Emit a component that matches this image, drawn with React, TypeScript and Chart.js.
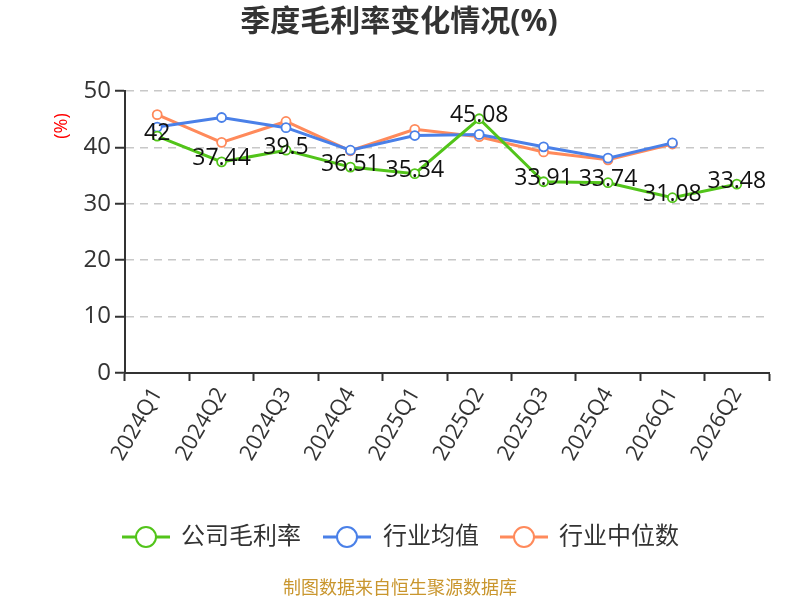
import React, { useEffect, useRef } from "react";
import { Chart, registerables } from "chart.js";

Chart.register(...registerables);

const categories = ["2024Q1", "2024Q2", "2024Q3", "2024Q4", "2025Q1", "2025Q2", "2025Q3", "2025Q4", "2026Q1", "2026Q2"];
const companyMargin = [42, 37.44, 39.5, 36.51, 35.34, 45.08, 33.91, 33.74, 31.08, 33.48];
const industryAvg = [43.6, 45.3, 43.5, 39.5, 42.1, 42.3, 40.1, 38.1, 40.8, null];
const industryMedian = [45.8, 40.9, 44.6, 39.4, 43.2, 41.9, 39.2, 37.8, 40.6, null];
const yTicks = [0, 10, 20, 30, 40, 50];

const seriesNames = ["公司毛利率", "行业均值", "行业中位数"];
const seriesColors = ["#52c41a", "#4a80e8", "#ff8a5b"];

const FONT = "'Open Sans', 'Noto Sans CJK SC', sans-serif";

const decorPlugin = {
  id: "decor",
  afterDatasetsDraw(chart: any) {
    const ctx = chart.ctx;
    const meta = chart.getDatasetMeta(0);
    ctx.save();
    ctx.font = `23px ${FONT}`;
    ctx.fillStyle = "#111";
    ctx.textAlign = "center";
    ctx.textBaseline = "middle";
    meta.data.forEach((pt: any, i: number) => {
      const v = companyMargin[i];
      if (v == null) return;
      ctx.fillText(String(v), pt.x, pt.y - 3);
    });
    ctx.restore();
  },
  afterDraw(chart: any) {
    const ctx = chart.ctx;
    ctx.save();
    ctx.font = `bold 30px ${FONT}`;
    ctx.fillStyle = "#333";
    ctx.textAlign = "center";
    ctx.textBaseline = "middle";
    ctx.fillText("季度毛利率变化情况(%)", 399, 22);
    ctx.save();
    ctx.translate(62, 126);
    ctx.rotate(-Math.PI / 2);
    ctx.font = `18px ${FONT}`;
    ctx.fillStyle = "#ff0000";
    ctx.fillText("(%)", 0, 0);
    ctx.restore();
    const items = [
      { cx: 146, tx: 181 },
      { cx: 347, tx: 383 },
      { cx: 524, tx: 559 },
    ];
    const ly = 537;
    items.forEach((it, i) => {
      ctx.strokeStyle = seriesColors[i];
      ctx.lineWidth = 3;
      ctx.beginPath();
      ctx.moveTo(it.cx - 24, ly);
      ctx.lineTo(it.cx + 24, ly);
      ctx.stroke();
      ctx.beginPath();
      ctx.arc(it.cx, ly, 10, 0, Math.PI * 2);
      ctx.fillStyle = "#fff";
      ctx.fill();
      ctx.lineWidth = 2;
      ctx.stroke();
      ctx.font = `24px ${FONT}`;
      ctx.fillStyle = "#333";
      ctx.textAlign = "left";
      ctx.textBaseline = "middle";
      ctx.fillText(seriesNames[i], it.tx, ly);
    });
    ctx.font = `18px ${FONT}`;
    ctx.fillStyle = "#c9962e";
    ctx.textAlign = "center";
    ctx.fillText("制图数据来自恒生聚源数据库", 400, 589);
    ctx.restore();
  },
};

export default function App() {
  const ref = useRef<HTMLCanvasElement | null>(null);
  useEffect(() => {
    document.body.style.margin = "0";
    if (!ref.current) return;
    const mk = (data: any[], color: string) => ({
      data,
      borderColor: color,
      backgroundColor: "#fff",
      borderWidth: 3,
      pointRadius: 4.5,
      pointBorderWidth: 1.8,
      pointBackgroundColor: "#fff",
      pointBorderColor: color,
      tension: 0,
      spanGaps: false,
    });
    const chart = new Chart(ref.current, {
      type: "line",
      data: {
        labels: categories,
        datasets: [
          mk(companyMargin, seriesColors[0]),
          mk(industryAvg, seriesColors[1]),
          mk(industryMedian, seriesColors[2]),
        ],
      },
      options: {
        animation: false,
        responsive: false,
        layout: { padding: { top: 91, right: 31, left: 0, bottom: 0 } },
        plugins: { legend: { display: false }, title: { display: false }, tooltip: { enabled: false } },
        scales: {
          x: {
            offset: true,
            grid: { display: true, offset: true, drawOnChartArea: false, drawTicks: true, tickLength: 8, tickColor: "#333", tickWidth: 2 },
            border: { color: "#333", width: 2 },
            ticks: { font: { size: 22, family: FONT }, color: "#333", maxRotation: 60, minRotation: 60, padding: 2 },
            afterFit: (s: any) => { s.height = 600 - 373; },
          },
          y: {
            min: 0,
            max: 50,
            afterBuildTicks: (s: any) => { s.ticks = yTicks.map((v) => ({ value: v })); },
            grid: { color: "#c8c8c8", tickColor: "#333", tickLength: 10, tickWidth: 2, lineWidth: 1.5, tickBorderDash: [] },
            border: { color: "#333", width: 2, dash: [8, 6] },
            ticks: { font: { size: 24, family: FONT }, color: "#333", padding: 4 },
            afterFit: (s: any) => { s.width = 125; },
          },
        },
      },
      plugins: [decorPlugin],
    } as any);
    return () => chart.destroy();
  }, []);
  return (
    <div style={{ position: "absolute", left: 0, top: 0, width: 800, height: 600, background: "#fff" }}>
      <canvas ref={ref} width={800} height={600} style={{ width: 800, height: 600 }} />
    </div>
  );
}
